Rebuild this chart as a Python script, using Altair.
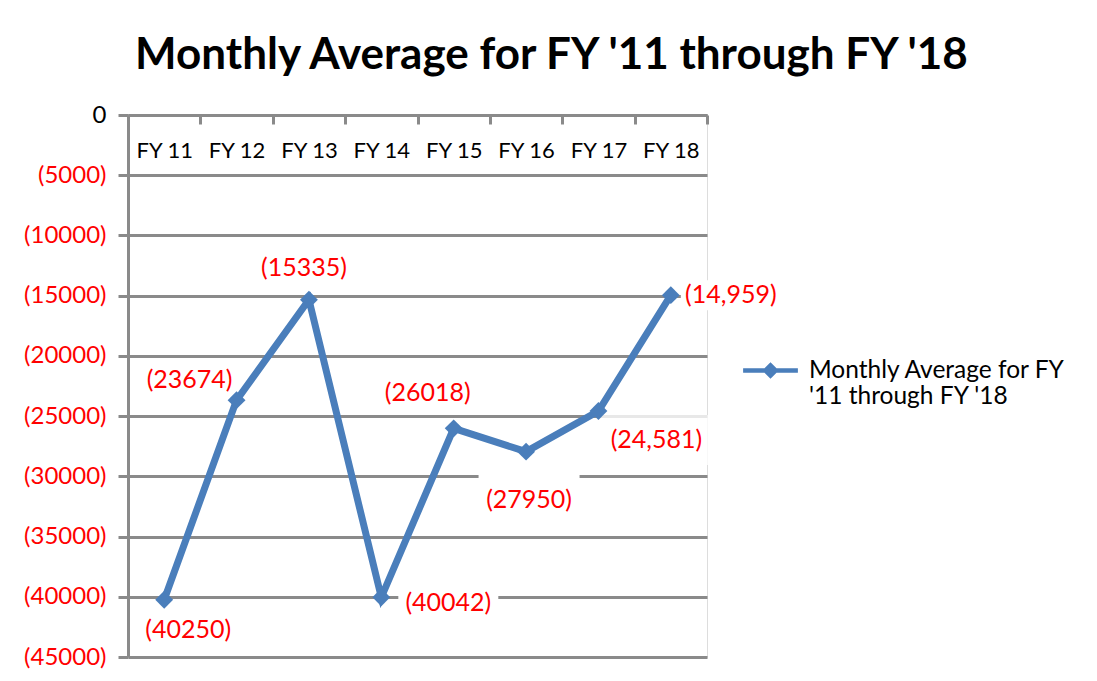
import altair as alt
import pandas as pd

# ---- data ----
categories = ["FY 11", "FY 12", "FY 13", "FY 14", "FY 15", "FY 16", "FY 17", "FY 18"]
values = [-40250, -23674, -15335, -40042, -26018, -27950, -24581, -14959]
labels = ["(40250)", "(23674)", "(15335)", "(40042)", "(26018)", "(27950)", "(24,581)", "(14,959)"]
y_ticks = [0, -5000, -10000, -15000, -20000, -25000, -30000, -35000, -40000, -45000]
series_name = "Monthly Average for FY '11 through FY '18"
title_text = "Monthly Average for FY '11 through FY '18"

df = pd.DataFrame({"fy": categories, "value": values, "label": labels, "series": series_name})

# ---- styling ----
FONT = "Lato"
BLUE = "#4a7ebb"
GRID = "#8a8a8a"
W, H = 579, 542

# label placement offsets (dx, dy) per category, as in the reference
label_off = {
    "FY 11": (24, 30), "FY 12": (-47, -20), "FY 13": (-5, -32), "FY 14": (67, 6),
    "FY 15": (-26, -35), "FY 16": (3, 48), "FY 17": (58, 29), "FY 18": (60, 0),
}
# white label backgrounds (dx, dy, w, h, opacity)
box_off = {
    "FY 11": (24, 30, 94, 28, 1), "FY 12": (-47, -20, 94, 28, 1), "FY 13": (-5, -32, 94, 28, 1),
    "FY 14": (67, 6, 100, 28, 1), "FY 15": (-26, -35, 94, 28, 1), "FY 16": (3, 40, 101, 46, 1),
    "FY 17": (62, 29, 124, 50, 0.8), "FY 18": (62, 0, 104, 30, 1),
}


def box_path(w, h):
    r = round(h / w, 4)
    return "M-1,-{r}L1,-{r}L1,{r}L-1,{r}Z".format(r=r)


x_enc = alt.X("fy:N", sort=categories,
              scale=alt.Scale(type="band", domain=categories, paddingInner=0, paddingOuter=0),
              axis=alt.Axis(orient="bottom", offset=-H, title=None, labelAngle=0,
                            labelFont=FONT, labelFontSize=22, labelColor="black",
                            labelPadding=16, tickBand="extent", tickSize=9, tickWidth=3,
                            tickColor=GRID, domainColor=GRID, domainWidth=3, grid=False))
y_enc = alt.Y("value:Q", scale=alt.Scale(domain=[-45000, 0], nice=False),
              axis=alt.Axis(values=y_ticks, title=None, labelFont=FONT, labelFontSize=24,
                            labelExpr="datum.value == 0 ? '0' : '(' + format(abs(datum.value), 'd') + ')'",
                            labelColor={"condition": {"test": "datum.value == 0", "value": "black"}, "value": "red"},
                            labelPadding=12, tickSize=10, tickWidth=3, tickColor=GRID,
                            domainColor=GRID, domainWidth=3, grid=True, gridColor=GRID,
                            gridWidth=3))

base = alt.Chart(df)

layers = []
# white boxes behind labels
for cat, (dx, dy, bw, bh, op) in box_off.items():
    layers.append(
        base.transform_filter(alt.datum.fy == cat)
        .mark_point(shape=box_path(bw, bh), size=bw * bw, filled=True, color="white",
                    opacity=op, xOffset=dx, yOffset=dy)
        .encode(x=x_enc, y=y_enc)
    )

line = base.mark_line(strokeWidth=7, point=alt.OverlayMarkDef(shape="diamond", size=320, filled=True, opacity=1)).encode(
    x=x_enc, y=y_enc,
    color=alt.Color("series:N", scale=alt.Scale(range=[BLUE]),
                    legend=alt.Legend(title=None, orient="none", legendX=615, legendY=228,
                                      labelFont=FONT, labelFontSize=24.5, labelColor="black",
                                      labelLimit=500,
                                      labelExpr="[substring(datum.label, 0, 22), substring(datum.label, 23)]",
                                      symbolType="M-1,-0.08L-0.22,-0.08L0,-0.3L0.22,-0.08L1,-0.08L1,0.08L0.22,0.08L0,0.3L-0.22,0.08L-1,0.08Z",
                                      symbolSize=3000, symbolFillColor=BLUE, symbolStrokeColor=BLUE,
                                      symbolStrokeWidth=0, labelOffset=11)),
)
layers.append(line)

for cat, (dx, dy) in label_off.items():
    layers.append(
        base.transform_filter(alt.datum.fy == cat)
        .mark_text(font=FONT, fontSize=25, color="red", dx=dx, dy=dy, baseline="middle")
        .encode(x=x_enc, y=y_enc, text="label:N")
    )

chart = alt.layer(*layers).properties(
    width=W, height=H,
    autosize=alt.AutoSizeParams(type="none"),
    padding={"left": 120, "top": 107, "right": 382, "bottom": 20},
    title=alt.TitleParams(title_text, font=FONT, fontSize=44, fontWeight="bold", color="black",
                          anchor="middle", frame="group", dx=134, dy=57, offset=47, baseline="alphabetic"),
).configure_view(stroke=None).configure(background="white")

chart.save("out.html", embed_options={"renderer": "svg", "actions": False})
